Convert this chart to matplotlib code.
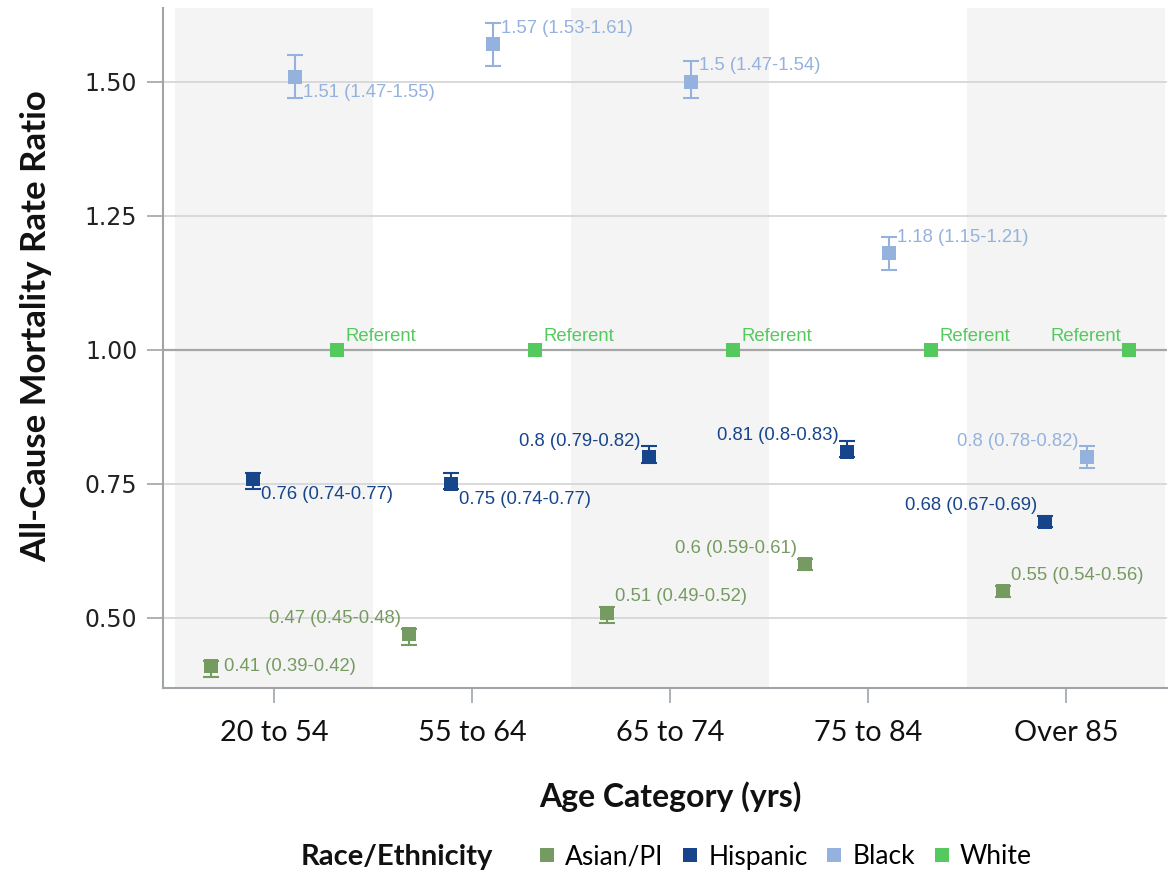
import matplotlib
matplotlib.use('Agg')
import matplotlib.pyplot as plt
from matplotlib.lines import Line2D
import numpy as np

# ---- data ----
categories = ['20 to 54', '55 to 64', '65 to 74', '75 to 84', 'Over 85']
series_names = ['Asian/PI', 'Hispanic', 'Black', 'White']

asian = [0.41, 0.47, 0.51, 0.60, 0.55]
asian_lo = [0.39, 0.45, 0.49, 0.59, 0.54]
asian_hi = [0.42, 0.48, 0.52, 0.61, 0.56]

hispanic = [0.76, 0.75, 0.80, 0.81, 0.68]
hispanic_lo = [0.74, 0.74, 0.79, 0.80, 0.67]
hispanic_hi = [0.77, 0.77, 0.82, 0.83, 0.69]

black = [1.51, 1.57, 1.50, 1.18, 0.80]
black_lo = [1.47, 1.53, 1.47, 1.15, 0.78]
black_hi = [1.55, 1.61, 1.54, 1.21, 0.82]

white = [1.0, 1.0, 1.0, 1.0, 1.0]

yticks = [0.50, 0.75, 1.00, 1.25, 1.50]

# ---- style ----
colors = ['#769B61', '#17458C', '#94B2DD', '#54C95E']
# label placement per series/category: r=right, ra=right-above, rb=right-below, la=left-above
placement = [
    ['r', 'la', 'ra', 'la', 'ra'],
    ['rb', 'rb', 'la', 'la', 'la'],
    ['rb', 'ra', 'ra', 'ra', 'la'],
    ['ra', 'ra', 'ra', 'ra', 'la'],
]

W, H = 1168, 875
fig = plt.figure(figsize=(W / 100, H / 100), dpi=100)
ax = fig.add_axes([163 / W, 1 - 688 / H, (1167 - 163) / W, (688 - 8) / H])

x = np.arange(len(categories))
dodge = 0.212

for i in range(0, len(categories), 2):
    ax.axvspan(i - 0.5, i + 0.5, color='#F4F4F4', zorder=0, lw=0)

for yt in yticks:
    if yt == 1.0:
        ax.axhline(yt, color='#A6A6A6', lw=1.6, zorder=1)
    else:
        ax.axhline(yt, color='#D9D9D9', lw=1.4, zorder=1)

data = [
    (asian, asian_lo, asian_hi),
    (hispanic, hispanic_lo, hispanic_hi),
    (black, black_lo, black_hi),
    (white, None, None),
]

lab_family = ['Liberation Sans', 'DejaVu Sans']
hpt, vpt = 5.8, 11.5

for k, (vals, lo, hi) in enumerate(data):
    c = colors[k]
    xs = x + (k - 1.5) * dodge
    v = np.array(vals)
    if lo is not None:
        err = [v - np.array(lo), np.array(hi) - v]
        ax.errorbar(xs, v, yerr=err, fmt='none', ecolor=c,
                    elinewidth=1.5, capsize=5.8, capthick=1.5, zorder=3)
    ax.plot(xs, v, 's', ms=10, color=c, mew=0, zorder=3.5)
    for j in range(len(categories)):
        if lo is None:
            txt = 'Referent'
            vv = 10.0
        else:
            txt = f'{vals[j]:g} ({lo[j]:g}-{hi[j]:g})'
            vv = vpt
        p = placement[k][j]
        if p == 'r':
            off, ha, va = (9.4, 0), 'left', 'center'
        elif p == 'ra':
            off, ha, va = (hpt, vv), 'left', 'center'
        elif p == 'rb':
            off, ha, va = (hpt, -vv), 'left', 'center'
        else:
            off, ha, va = (-hpt, vv), 'right', 'center'
        ax.annotate(txt, (xs[j], vals[j]), xytext=off, textcoords='offset points',
                    ha=ha, va=va, color=c, family=lab_family, fontsize=13.3, zorder=4)

ax.set_xlim(-0.5606, 4.51)
ax.set_ylim(0.3694, 1.638)
ax.set_yticks(yticks)
ax.set_yticklabels([f'{t:.2f}' for t in yticks])
ax.set_xticks(x)
ax.set_xticklabels(categories)

for s in ['top', 'right']:
    ax.spines[s].set_visible(False)
for s in ['left', 'bottom']:
    ax.spines[s].set_color('#A0A4A8')
    ax.spines[s].set_linewidth(1.5)

ax.tick_params(axis='y', length=11.5, width=1.2, color='#A0A4A8', pad=7,
               labelsize=17, labelcolor='#222222')
ax.tick_params(axis='x', length=11, width=1.2, color='#A0A4A8', pad=12,
               labelsize=20.8, labelcolor='#111111')
for t in ax.get_yticklabels():
    t.set_family('DejaVu Sans')
for t in ax.get_xticklabels():
    t.set_family('Lato')

ax.set_xlabel('Age Category (yrs)', family='Lato', fontweight='bold', fontsize=23,
              color='#111111', va='center')
ax.xaxis.set_label_coords((670 - 163) / 1004, (688 - 797) / 680)
ax.set_ylabel('All-Cause Mortality Rate Ratio', family='Lato', fontweight='bold',
              fontsize=25, color='#111111', va='center')
ax.yaxis.set_label_coords((36 - 163) / 1004, (688 - 326) / 680)

handles = [Line2D([], [], marker='s', ls='', color=c, ms=9.4, mew=0) for c in colors]
fig.legend(handles, series_names, loc='center left',
           bbox_to_anchor=(540 / W, 1 - 857 / H), ncol=4, frameon=False,
           handlelength=0.5, handletextpad=0.45, columnspacing=0.75,
           prop=dict(family='Lato', size=19), borderaxespad=0, borderpad=0)
fig.text(493 / W, 1 - 857 / H, 'Race/Ethnicity', ha='right', va='center',
         family='Lato', fontweight='bold', fontsize=21, color='#111111')

fig.savefig('out.png', dpi=100)
